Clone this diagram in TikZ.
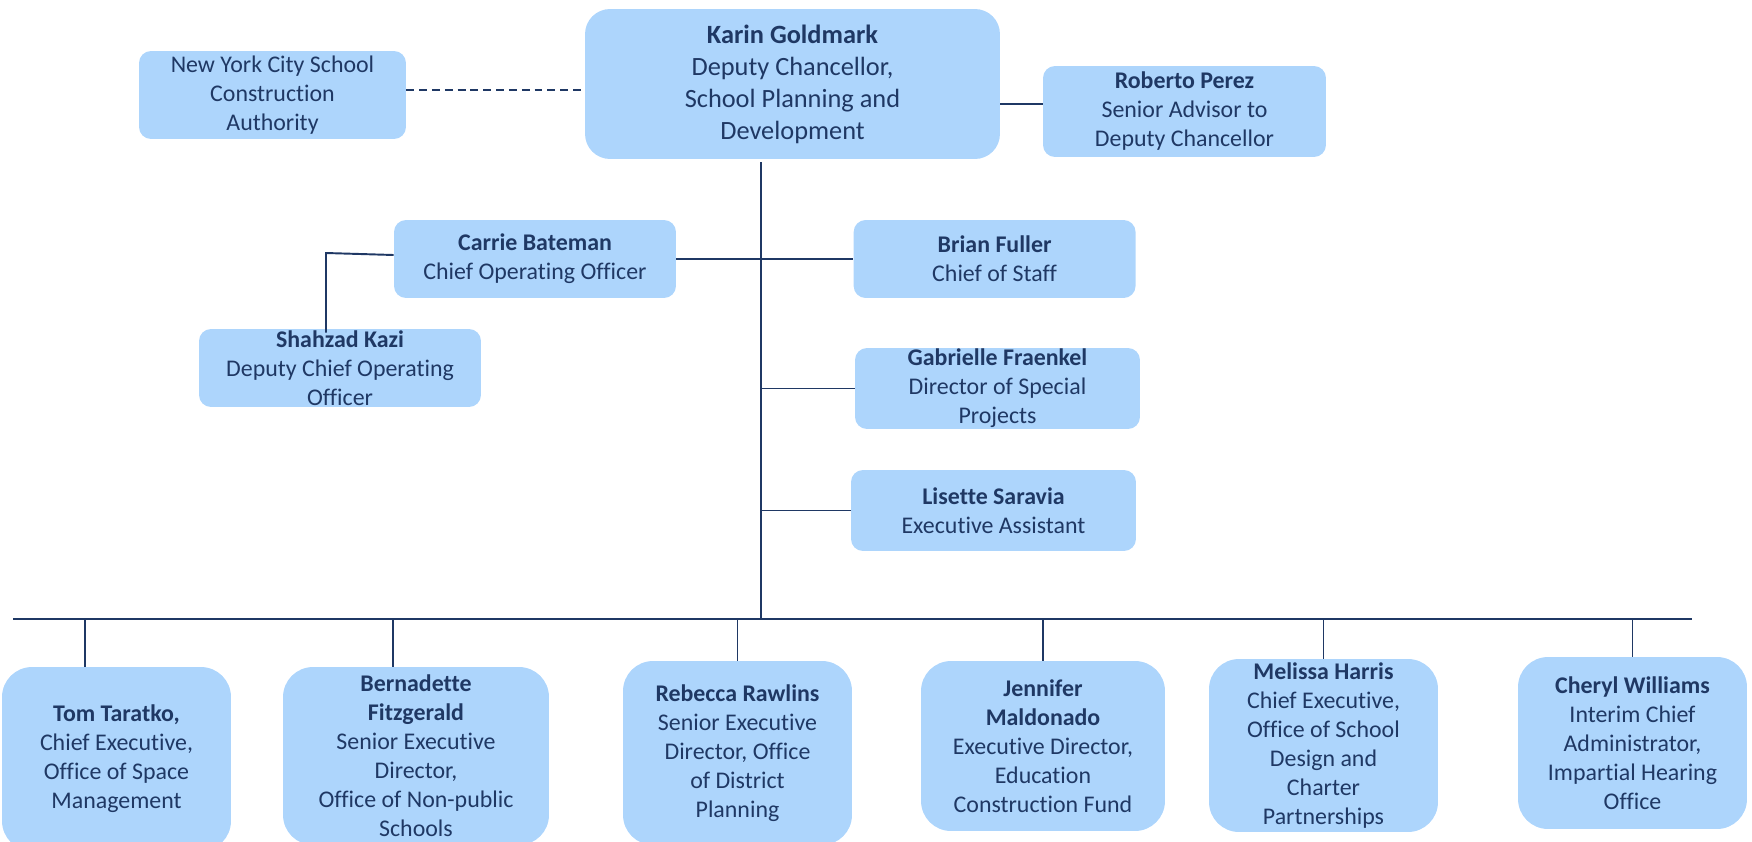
\documentclass[tikz,border=0pt]{standalone}
\usepackage{fontspec}
\setmainfont{Carlito}[RawFeature={-liga;-clig;-calt;-dlig}]
\usetikzlibrary{positioning}
\definecolor{boxblue}{RGB}{173,213,252}
\definecolor{navy}{RGB}{31,56,100}

\begin{document}
\begin{tikzpicture}[x=0.02cm, y=-0.02cm,
        box/.style={fill=boxblue, text=navy, rounded corners=0.24cm, align=center, inner sep=0pt, font=\fontsize{13.6}{16.5}\selectfont},
        bigbox/.style={box, rounded corners=0.6cm},
        link/.style={draw=navy, line width=1.1pt}]
        \useasboundingbox (0,0) rectangle (1752,842);

        \node[box, rounded corners=0.5cm, minimum width=8.3cm, minimum height=3cm, font=\fontsize{15}{18.2}\selectfont] (karin) at (792.5,84) {\textbf{Karin Goldmark}\\Deputy Chancellor,\\School Planning and\\Development};
        \node[box, minimum width=5.34cm, minimum height=1.76cm] (sca) at (272.5,95) {New York City School\\Construction\\Authority};
        \node[box, minimum width=5.66cm, minimum height=1.82cm] (roberto) at (1184.5,111.5) {\textbf{Roberto Perez}\\Senior Advisor to\\Deputy Chancellor};
        \node[box, minimum width=5.64cm, minimum height=1.56cm] (carrie) at (535,259) {\textbf{Carrie Bateman}\\Chief Operating Officer};
        \node[box, right=3.54cm of carrie, minimum width=5.64cm, minimum height=1.56cm] (brian) {\textbf{Brian Fuller}\\Chief of Staff};
        \node[box, minimum width=5.64cm, minimum height=1.56cm] (shahzad) at (340,368) {\textbf{Shahzad Kazi}\\Deputy Chief Operating\\Officer};
        \node[box, minimum width=5.7cm, minimum height=1.62cm] (gabrielle) at (997.5,388.5) {\textbf{Gabrielle Fraenkel}\\Director of Special\\Projects};
        \node[box, minimum width=5.7cm, minimum height=1.62cm] (lisette) at (993.5,510.5) {\textbf{Lisette Saravia}\\Executive Assistant};

        \node[bigbox, minimum width=4.58cm, minimum height=3.68cm] (tom) at (116.5,759) {\textbf{Tom Taratko,}\\Chief Executive,\\Office of Space\\Management};
        \node[bigbox, minimum width=5.32cm, minimum height=3.56cm] (bernadette) at (416,756) {\textbf{Bernadette}\\\textbf{Fitzgerald}\\Senior Executive\\Director,\\Office of Non-public\\Schools};
        \node[bigbox, minimum width=4.58cm, minimum height=3.68cm] (rebecca) at (737.5,753) {\textbf{Rebecca Rawlins}\\Senior Executive\\Director, Office\\of District\\Planning};
        \node[bigbox, minimum width=4.88cm, minimum height=3.4cm] (jennifer) at (1043,746) {\textbf{Jennifer}\\\textbf{Maldonado}\\Executive Director,\\Education\\Construction Fund};
        \node[bigbox, minimum width=4.58cm, minimum height=3.46cm] (melissa) at (1323.5,745.5) {\textbf{Melissa Harris}\\Chief Executive,\\Office of School\\Design and\\Charter\\Partnerships};
        \node[bigbox, minimum width=4.58cm, minimum height=3.44cm] (cheryl) at (1632.5,743) {\textbf{Cheryl Williams}\\Interim Chief\\Administrator,\\Impartial Hearing\\Office};

        \coordinate (trunk) at (761,162);
        \coordinate (bus) at (761,619);
        \coordinate (busleft) at (13,619);
        \coordinate (busright) at (1692,619);
        \coordinate (elbow) at (326,253);

        \draw[link, dash pattern=on 4.5pt off 2.8pt] (sca.east |- 0,90) -- (karin.west |- 0,90);
        \draw[link] (karin.east |- 0,104) -- (roberto.west |- 0,104);
        \draw[link] (trunk) -- (bus);
        \draw[link] (carrie.east) -- (brian.west);
        \draw[link] ([yshift=0.08cm]carrie.west) -- (elbow) -- ([yshift=-0.08cm]elbow |- shahzad.north);
        \draw[link] (trunk |- gabrielle.west) -- (gabrielle.west);
        \draw[link] (trunk |- lisette.west) -- (lisette.west);
        \draw[link] (busleft) -- (busright);
        \draw[link] ([xshift=-0.63cm]tom.north) -- ([xshift=-0.63cm]tom.north |- bus);
        \draw[link] ([xshift=-0.46cm]bernadette.north) -- ([xshift=-0.46cm]bernadette.north |- bus);
        \foreach \n in {rebecca, jennifer, melissa, cheryl}
            \draw[link] (\n.north) -- (\n.north |- bus);
    \end{tikzpicture}
\end{document}
